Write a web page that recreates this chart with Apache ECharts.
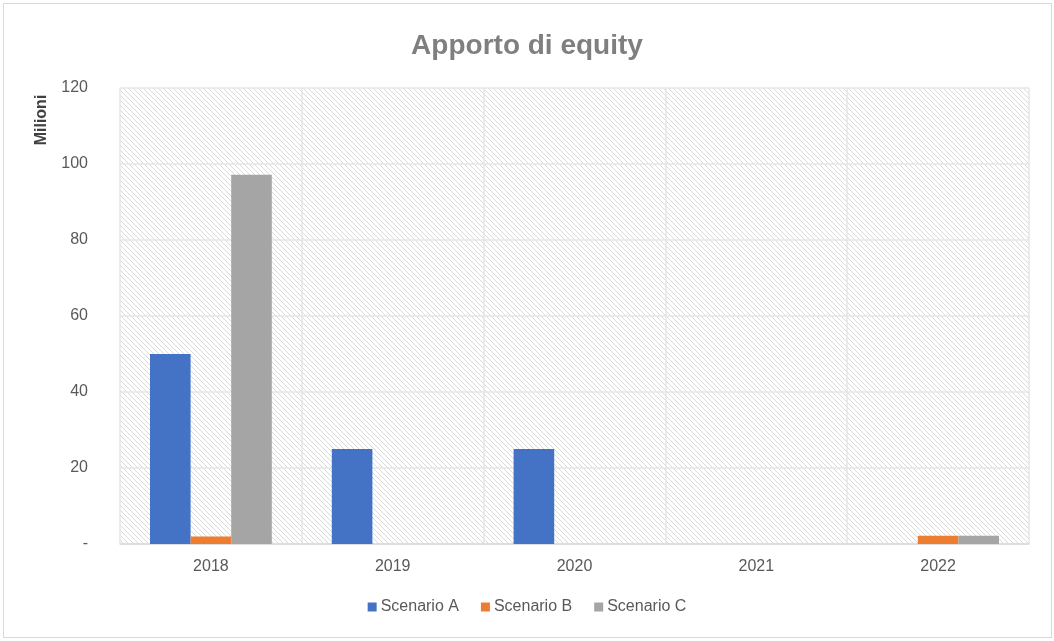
<!DOCTYPE html>
<html>
<head>
<meta charset="utf-8">
<script src="https://cdn.jsdelivr.net/npm/echarts@6/dist/echarts.min.js"></script>
<style>
  html, body { margin: 0; padding: 0; background: #fff; }
  .frame {
    position: absolute; left: 3px; top: 3px;
    width: 1047px; height: 633px;
    border: 1px solid #d9d9d9;
  }
  #chart { position: absolute; left: 0; top: 0; width: 1054px; height: 641px; }
</style>
</head>
<body>
<div class="frame"></div>
<div id="chart"></div>
<script>
// data (milioni)
const years = ['2018', '2019', '2020', '2021', '2022'];
const scenarioA = [50, 25, 25, 0, 0];
const scenarioB = [2, 0, 0, 0, 2.2];
const scenarioC = [97.2, 0, 0, 0, 2.2];

const labelFont = "'Liberation Sans', sans-serif";

// diagonal hatch used as plot background
const hatch = (() => {
  const c = document.createElement('canvas');
  c.width = 10; c.height = 10;
  const g = c.getContext('2d');
  g.strokeStyle = '#dadada';
  g.lineWidth = 1;
  for (let k = -10; k <= 10; k += 5) {
    g.beginPath();
    g.moveTo(k, 0);
    g.lineTo(k + 10, 10);
    g.stroke();
  }
  return c;
})();

const chart = echarts.init(document.getElementById('chart'));
const bar = (name, data, color) => ({
  name,
  type: 'bar',
  data,
  barGap: '0%',
  barCategoryGap: '33%',
  itemStyle: { color },
});

chart.setOption({
  animation: false,
  title: {
    text: 'Apporto di equity',
    left: 'center',
    top: 27,
    textStyle: {
      fontFamily: labelFont,
      fontSize: 28,
      fontWeight: 'bold',
      color: '#7f7f7f',
    },
  },
  graphic: [{
    type: 'text',
    x: 42,
    y: 120,
    rotation: Math.PI / 2,
    style: {
      text: 'Milioni',
      fontFamily: labelFont,
      fontSize: 16,
      fontWeight: 'bold',
      fill: '#404040',
      textAlign: 'center',
      textVerticalAlign: 'middle',
    },
  }],
  legend: {
    bottom: 21,
    left: 'center',
    itemWidth: 9,
    itemHeight: 9,
    itemGap: 22,
    icon: 'rect',
    textStyle: { fontFamily: labelFont, fontSize: 16, color: '#595959', padding: [0, 0, 0, -1] },
    data: ['Scenario A', 'Scenario B', 'Scenario C'],
  },
  grid: {
    left: 120,
    right: 25,
    top: 88,
    bottom: 97,
    show: true,
    borderWidth: 0,
    backgroundColor: { image: hatch, repeat: 'repeat' },
  },
  xAxis: {
    type: 'category',
    data: years,
    axisLine: { lineStyle: { color: '#d9d9d9', width: 1.5 } },
    axisTick: { show: false },
    splitLine: { show: true, lineStyle: { color: '#e6e6e6', width: 1.5 } },
    axisLabel: { fontFamily: labelFont, fontSize: 16, color: '#595959', margin: 15 },
  },
  yAxis: {
    type: 'value',
    min: 0,
    max: 120,
    interval: 20,
    axisLine: { show: false },
    axisTick: { show: false },
    splitLine: { lineStyle: { color: '#e6e6e6', width: 1.5 } },
    axisLabel: {
      fontFamily: labelFont,
      fontSize: 16,
      color: '#595959',
      margin: 32,
      formatter: (v) => (v === 0 ? '-' : String(v)),
    },
  },
  series: [
    bar('Scenario A', scenarioA, '#4472c4'),
    bar('Scenario B', scenarioB, '#ed7d31'),
    bar('Scenario C', scenarioC, '#a5a5a5'),
  ],
});
</script>
</body>
</html>
